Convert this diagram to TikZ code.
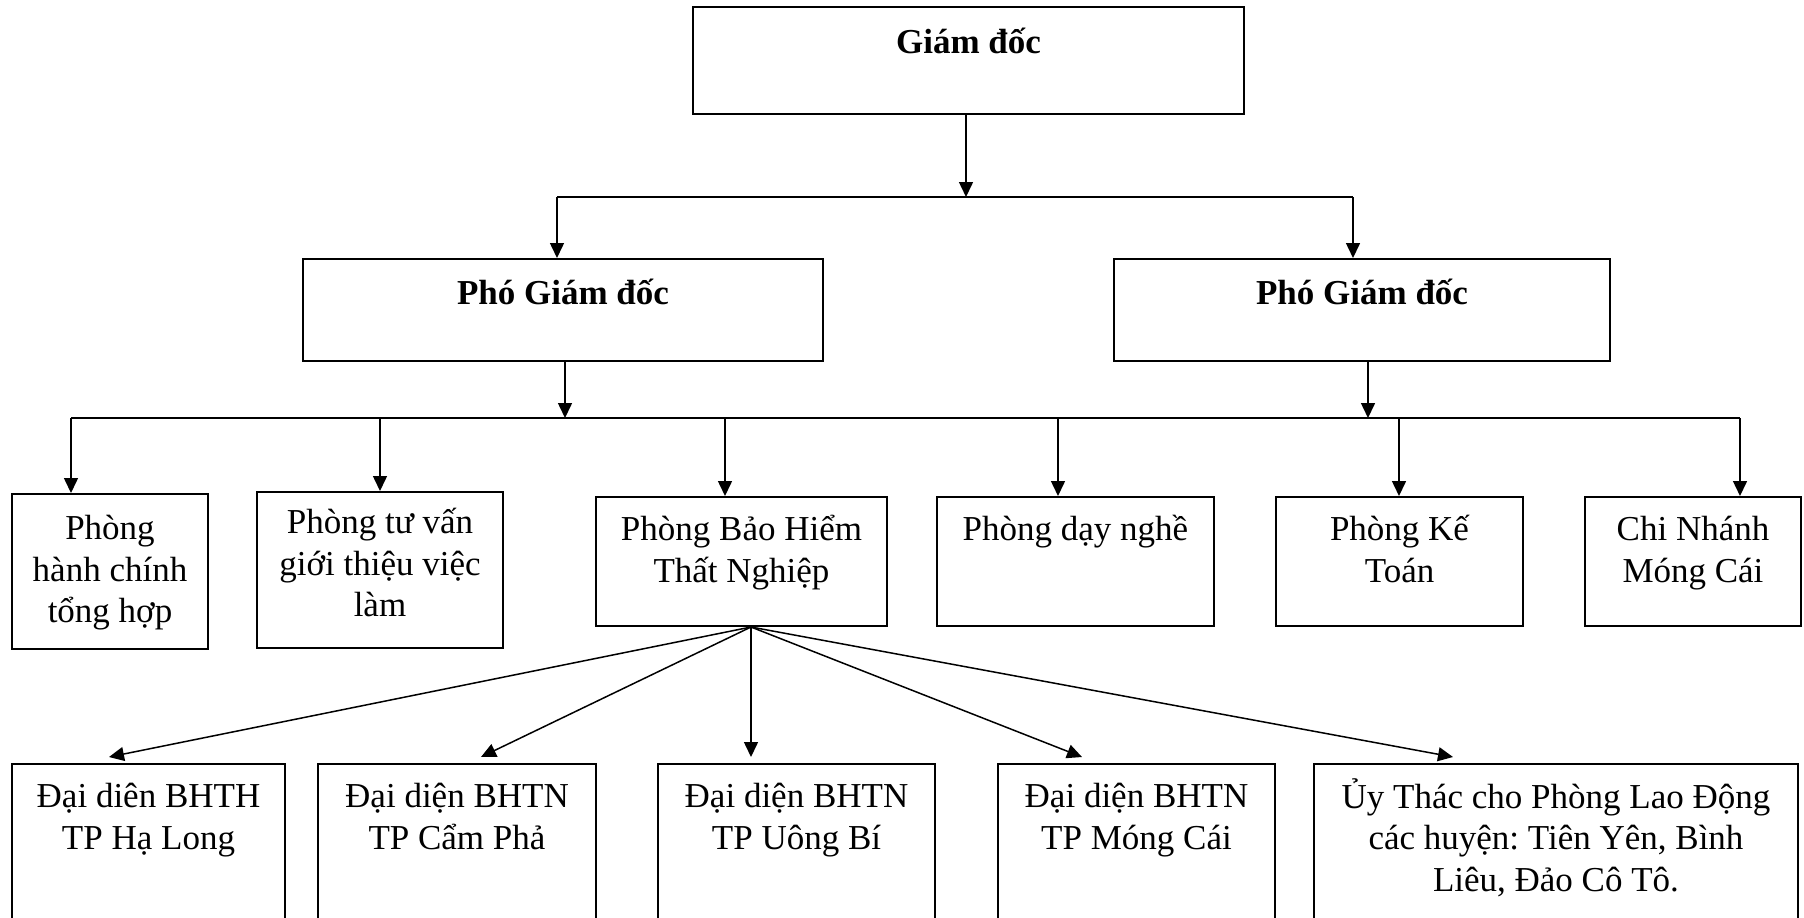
\documentclass[tikz,border=0pt]{standalone}
\usepackage{fontspec}
\setmainfont{Liberation Serif}
\usetikzlibrary{fit,arrows.meta,calc}
\begin{document}
\begin{tikzpicture}[x=0.5pt,y=-0.5pt,
  box/.style={draw,line width=1pt,inner sep=0pt},
  lbl/.style={align=center,inner sep=0pt,font=\fontsize{17.5}{20.8}\selectfont\frenchspacing,anchor=north},
  conn/.style={line width=0.75pt},
  arr/.style={conn,-{Triangle[length=7.5pt,width=7pt]}}]
\clip (0,0) rectangle (1804,917);
% boxes
\node[box,fit={(693,7) (1244,114)}] (gd) {};
\node[box,fit={(303,259) (823,361)}] (pgd1) {};
\node[box,fit={(1114,259) (1610,361)}] (pgd2) {};
\node[box,fit={(12,494) (208,649)}] (r1) {};
\node[box,fit={(257,492) (503,648)}] (r2) {};
\node[box,fit={(596,497) (887,626)}] (r3) {};
\node[box,fit={(937,497) (1214,626)}] (r4) {};
\node[box,fit={(1276,497) (1523,626)}] (r5) {};
\node[box,fit={(1585,497) (1801,626)}] (r6) {};
\node[box,fit={(12,764) (285,960)}] (b1) {};
\node[box,fit={(318,764) (596,960)}] (b2) {};
\node[box,fit={(658,764) (935,960)}] (b3) {};
\node[box,fit={(998,764) (1275,960)}] (b4) {};
\node[box,fit={(1314,764) (1798,960)}] (b5) {};
% labels
\node[lbl] (gdt) at ($(gd.north)+(0,18)$) {\strut\bfseries Giám đốc};
\node[lbl] (pgd1t) at ($(pgd1.north)+(0,17)$) {\strut\bfseries Phó Giám đốc};
\node[lbl] (pgd2t) at ($(pgd2.north)+(0,17)$) {\strut\bfseries Phó Giám đốc};
\node[lbl] (r1t) at ($(r1.north)+(0,17)$) {\strut Phòng\\hành chính\\tổng hợp};
\node[lbl] (r2t) at ($(r2.north)+(0,13)$) {\strut Phòng tư vấn\\giới thiệu việc\\làm};
\node[lbl] (r3t) at ($(r3.north)+(0,15)$) {\strut Phòng Bảo Hiểm\\Thất Nghiệp};
\node[lbl] (r4t) at ($(r4.north)+(0,15)$) {\strut Phòng dạy nghề};
\node[lbl] (r5t) at ($(r5.north)+(0,15)$) {\strut Phòng Kế\\Toán};
\node[lbl] (r6t) at ($(r6.north)+(0,15)$) {\strut Chi Nhánh\\Móng Cái};
\node[lbl] (b1t) at ($(b1.north)+(0,15)$) {\strut Đại diên BHTH\\TP Hạ Long};
\node[lbl] (b2t) at ($(b2.north)+(0,15)$) {\strut Đại diện BHTN\\TP Cẩm Phả};
\node[lbl] (b3t) at ($(b3.north)+(0,15)$) {\strut Đại diện BHTN\\TP Uông Bí};
\node[lbl] (b4t) at ($(b4.north)+(0,15)$) {\strut Đại diện BHTN\\TP Móng Cái};
\node[lbl] (b5t) at ($(b5.north)+(0,15)$) {\strut Ủy Thác cho Phòng Lao Động\\các huyện: Tiên Yên, Bình\\Liêu, Đảo Cô Tô.};
% bus coordinates
\coordinate (j0) at (966,197);
\coordinate (j1) at (557,197);
\coordinate (j2) at (1353,197);
\coordinate (k1) at (565,418);
\coordinate (k2) at (1368,418);
\coordinate (kL) at (71,418);
\coordinate (kR) at (1740,418);
\coordinate (c1) at (71,418);
\coordinate (c2) at (380,418);
\coordinate (c3) at (725,418);
\coordinate (c4) at (1058,418);
\coordinate (c5) at (1399,418);
\coordinate (c6) at (1740,418);
\coordinate (f0) at (751,627);
\coordinate (t1) at (109,757);
\coordinate (t2) at (481,757);
\coordinate (t3) at (751,757);
\coordinate (t4) at (1082,757);
\coordinate (t5) at (1453,757);
% connectors
\draw[arr] (gd.south -| j0) -- (j0);
\draw[conn] (j1) -- (j2);
\draw[arr] (j1) -- (j1 |- pgd1.north);
\draw[arr] (j2) -- (j2 |- pgd2.north);
\draw[arr] (pgd1.south -| k1) -- (k1);
\draw[arr] (pgd2.south -| k2) -- (k2);
\draw[conn] (kL) -- (kR);
\draw[arr] (c1) -- (c1 |- r1.north);
\draw[arr] (c2) -- (c2 |- r2.north);
\draw[arr] (c3) -- (c3 |- r3.north);
\draw[arr] (c4) -- (c4 |- r4.north);
\draw[arr] (c5) -- (c5 |- r5.north);
\draw[arr] (c6) -- (c6 |- r6.north);
\draw[arr] (f0) -- (t1);
\draw[arr] (f0) -- (t2);
\draw[arr] (f0) -- (t3);
\draw[arr] (f0) -- (t4);
\draw[arr] (f0) -- (t5);
\end{tikzpicture}
\end{document}
